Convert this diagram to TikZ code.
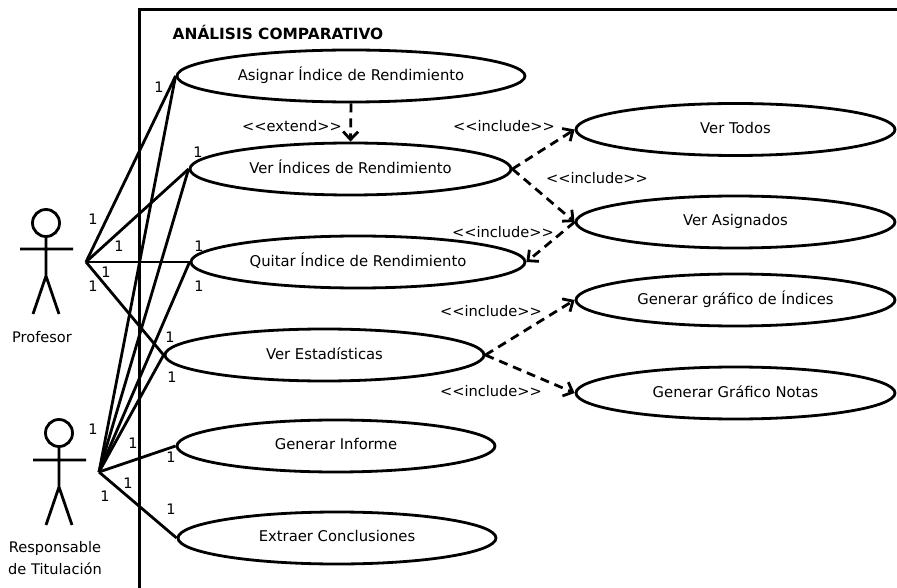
\documentclass[tikz,border=0pt]{standalone}
\usepackage{fontspec}
\setmainfont{DejaVu Sans}
\usetikzlibrary{shapes.geometric,arrows.meta}
\tikzset{
  usecase/.style={draw=black,line width=2.8pt,ellipse,inner sep=0pt,minimum width=#1,minimum height=52pt,font=\fontsize{14.8}{17}\selectfont},
  usecase/.default=320pt,
  assoc/.style={draw=black,line width=2.8pt},
  depend/.style={draw=black,line width=2.8pt,dash pattern=on 9pt off 6pt,-{Straight Barb[length=8pt,width=15pt,line width=2.8pt]}},
  stick/.style={draw=black,line width=2.8pt},
  head/.style={draw=black,line width=2.8pt,circle,minimum size=27pt,inner sep=0pt},
  mult/.style={font=\fontsize{14.5}{17}\selectfont,inner sep=0pt},
  lbl/.style={font=\fontsize{14.6}{17}\selectfont,inner sep=0pt},
}
\newcommand{\up}[1]{\raisebox{3.8pt}{#1}}
\begin{document}
\begin{tikzpicture}[x=1pt,y=-1pt]
\useasboundingbox (0,0) rectangle (897,588);
% frame
\coordinate (fa) at (897,10);
\coordinate (fb) at (139,10);
\coordinate (fc) at (139,588);
\draw[line width=3pt,line join=miter] (fa) -- (fb) -- (fc);
\node[font=\bfseries\fontsize{15.4}{18}\selectfont,inner sep=0pt] (title) at (278,32.5) {ANÁLISIS COMPARATIVO};
% use cases
\node[usecase=348pt] (e1) at (351,76) {\up{Asignar Índice de Rendimiento}};
\node[usecase=321pt] (e2) at (350.5,169) {\up{Ver Índices de Rendimiento}};
\node[usecase=334pt] (e3) at (358,262) {\up{Quitar Índice de Rendimiento}};
\node[usecase=319pt] (e4) at (324.5,355) {\up{Ver Estadísticas}};
\node[usecase=318pt] (e5) at (336,446) {\up{Generar Informe}};
\node[usecase=318pt] (e6) at (337,538) {\up{Extraer Conclusiones}};
\node[usecase=319pt] (r1) at (735.5,129.5) {\up{Ver Todos}};
\node[usecase=319pt] (r2) at (735.5,222) {\up{Ver Asignados}};
\node[usecase=319pt] (r3) at (735.5,300) {\up{Generar gráfico de Índices}};
\node[usecase=319pt] (r4) at (735.5,393) {\up{Generar Gráfico Notas}};
% actors
\node[head] (h1) at (46,223) {};
\coordinate (p1) at (46,276);
\coordinate (pa) at (20,249); \coordinate (pb) at (73,249);
\coordinate (pl) at (33,314); \coordinate (pr) at (59,314);
\draw[stick] (h1) -- (p1) (pa) -- (pb) (pl) -- (p1) -- (pr);
\node[lbl] (profesor) at (42,337) {Profesor};
\node[head] (h2) at (59,433) {};
\coordinate (p2) at (59,487);
\coordinate (qa) at (33,460); \coordinate (qb) at (86,460);
\coordinate (ql) at (46,525); \coordinate (qr) at (72,525);
\draw[stick] (h2) -- (p2) (qa) -- (qb) (ql) -- (p2) -- (qr);
\node[lbl] (resp1) at (55,548) {Responsable};
\node[lbl] (resp2) at (55,569) {de Titulación};
% associations
\coordinate (hp) at (86,262);
\coordinate (hr) at (99,472);
\foreach \t in {e1,e2,e3,e4} \draw[assoc] (hp) -- (\t.west);
\foreach \t in {e1,e2,e3,e4,e5,e6} \draw[assoc] (hr) -- (\t.west);
% dependencies
\draw[depend] (e1.south) -- (e2.north);
\draw[depend] (e2.east) -- (r1.west);
\draw[depend] (e2.east) -- (r2.west);
\draw[depend] (r2.west) -- (e3.east);
\draw[depend] (e4.east) -- (r3.west);
\draw[depend] (e4.east) -- (r4.west);
% dependency labels
\node[lbl] (l1) at (292,126) {<{}<extend>{}>};
\node[lbl] (l2) at (504,126) {<{}<include>{}>};
\node[lbl] (l3) at (597,178) {<{}<include>{}>};
\node[lbl] (l4) at (503,232) {<{}<include>{}>};
\node[lbl] (l5) at (491,311) {<{}<include>{}>};
\node[lbl] (l6) at (491,391) {<{}<include>{}>};
% multiplicities
\node[mult] (m1) at (159,87) {1};
\node[mult] (m2) at (93,219) {1};
\node[mult] (m3) at (119,246) {1};
\node[mult] (m4) at (106,272) {1};
\node[mult] (m5) at (93,286) {1};
\node[mult] (m6) at (198,152) {1};
\node[mult] (m7) at (199,246) {1};
\node[mult] (m8) at (199,286) {1};
\node[mult] (m9) at (170,337) {1};
\node[mult] (m10) at (172,377) {1};
\node[mult] (m11) at (93,429) {1};
\node[mult] (m12) at (133,443) {1};
\node[mult] (m13) at (171,457) {1};
\node[mult] (m14) at (128,483) {1};
\node[mult] (m15) at (105,496) {1};
\node[mult] (m16) at (171,509) {1};
\end{tikzpicture}
\end{document}
